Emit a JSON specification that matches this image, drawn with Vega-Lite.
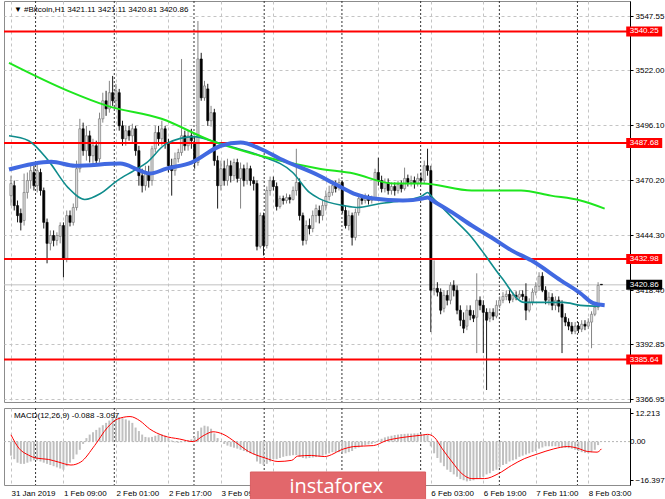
{
  "$schema": "https://vega.github.io/schema/vega-lite/v6.json",
  "padding": 0,
  "background": "white",
  "spacing": 3,
  "config": {
    "view": {"stroke": "#8c8c8c"},
    "font": "Liberation Sans",
    "axis": {"labelFont": "Liberation Sans", "labelFontSize": 8, "labelColor": "#000000"}
  },
  "datasets": {
    "bars": [
      {"i":0,"o":3462.9,"h":3472.3,"l":3458.2,"c":3468.6,"m":-6},
      {"i":1,"o":3467.6,"h":3470.0,"l":3455.9,"c":3458.2,"m":-7.5},
      {"i":2,"o":3458.2,"h":3460.6,"l":3450.3,"c":3453.5,"m":-9},
      {"i":3,"o":3454.5,"h":3456.8,"l":3446.5,"c":3450.3,"m":-9.5},
      {"i":4,"o":3451.2,"h":3473.3,"l":3448.8,"c":3464.4,"m":-9.5},
      {"i":5,"o":3464.4,"h":3473.8,"l":3461.5,"c":3470.0,"m":-9},
      {"i":6,"o":3470.0,"h":3478.0,"l":3466.2,"c":3474.7,"m":-8.5},
      {"i":7,"o":3473.8,"h":3477.0,"l":3465.3,"c":3467.6,"m":-8},
      {"i":8,"o":3467.6,"h":3478.0,"l":3464.4,"c":3474.7,"m":-8},
      {"i":9,"o":3473.8,"h":3475.6,"l":3462.9,"c":3465.3,"m":-8.5},
      {"i":10,"o":3465.3,"h":3466.7,"l":3447.4,"c":3450.3,"m":-9},
      {"i":11,"o":3450.3,"h":3452.1,"l":3431.0,"c":3440.4,"m":-9.5},
      {"i":12,"o":3440.4,"h":3446.5,"l":3437.1,"c":3444.1,"m":-10},
      {"i":13,"o":3444.1,"h":3446.5,"l":3439.0,"c":3441.8,"m":-10.5},
      {"i":14,"o":3441.8,"h":3445.6,"l":3439.4,"c":3444.1,"m":-11},
      {"i":15,"o":3443.7,"h":3450.3,"l":3440.4,"c":3448.8,"m":-11.5},
      {"i":16,"o":3448.8,"h":3450.3,"l":3424.4,"c":3433.3,"m":-12},
      {"i":17,"o":3433.3,"h":3455.9,"l":3431.5,"c":3453.5,"m":-10.5},
      {"i":18,"o":3453.5,"h":3455.9,"l":3448.4,"c":3450.3,"m":-9},
      {"i":19,"o":3450.3,"h":3459.2,"l":3448.8,"c":3457.3,"m":-7.5},
      {"i":20,"o":3457.3,"h":3479.4,"l":3455.9,"c":3475.6,"m":-5.5},
      {"i":21,"o":3475.6,"h":3499.1,"l":3473.8,"c":3494.4,"m":-3.5},
      {"i":22,"o":3494.4,"h":3497.3,"l":3481.7,"c":3484.1,"m":-1},
      {"i":23,"o":3484.1,"h":3495.8,"l":3479.4,"c":3491.1,"m":1.5},
      {"i":24,"o":3491.1,"h":3493.5,"l":3478.5,"c":3481.7,"m":3},
      {"i":25,"o":3481.7,"h":3489.7,"l":3477.0,"c":3486.4,"m":4},
      {"i":26,"o":3486.4,"h":3488.8,"l":3477.0,"c":3479.4,"m":5},
      {"i":27,"o":3480.3,"h":3502.0,"l":3478.5,"c":3499.1,"m":6},
      {"i":28,"o":3499.1,"h":3511.4,"l":3497.3,"c":3507.6,"m":7},
      {"i":29,"o":3507.6,"h":3512.3,"l":3500.5,"c":3503.8,"m":8},
      {"i":30,"o":3503.8,"h":3517.0,"l":3502.0,"c":3511.4,"m":9},
      {"i":31,"o":3511.4,"h":3519.3,"l":3505.2,"c":3507.6,"m":10},
      {"i":32,"o":3507.6,"h":3515.6,"l":3503.8,"c":3512.3,"m":10.3},
      {"i":33,"o":3511.4,"h":3513.2,"l":3493.5,"c":3495.8,"m":10.5},
      {"i":34,"o":3495.8,"h":3498.2,"l":3486.4,"c":3489.7,"m":10},
      {"i":35,"o":3489.7,"h":3495.8,"l":3486.4,"c":3493.5,"m":9.5},
      {"i":36,"o":3493.5,"h":3495.8,"l":3488.8,"c":3491.1,"m":9},
      {"i":37,"o":3491.1,"h":3496.8,"l":3487.9,"c":3494.4,"m":8},
      {"i":38,"o":3494.4,"h":3495.8,"l":3481.7,"c":3484.1,"m":6},
      {"i":39,"o":3484.1,"h":3486.4,"l":3467.6,"c":3472.3,"m":4.5},
      {"i":40,"o":3472.3,"h":3475.6,"l":3464.4,"c":3467.6,"m":3},
      {"i":41,"o":3467.6,"h":3477.0,"l":3465.3,"c":3473.8,"m":2},
      {"i":42,"o":3473.8,"h":3477.0,"l":3466.7,"c":3470.0,"m":1.8},
      {"i":43,"o":3470.0,"h":3486.4,"l":3467.6,"c":3485.0,"m":2},
      {"i":44,"o":3485.0,"h":3495.8,"l":3483.2,"c":3492.6,"m":2.5},
      {"i":45,"o":3492.6,"h":3495.8,"l":3486.4,"c":3489.7,"m":3},
      {"i":46,"o":3489.7,"h":3498.2,"l":3486.4,"c":3494.4,"m":3},
      {"i":47,"o":3494.4,"h":3495.8,"l":3485.0,"c":3487.4,"m":2.5},
      {"i":48,"o":3487.4,"h":3489.7,"l":3473.8,"c":3477.0,"m":1.5},
      {"i":49,"o":3477.0,"h":3480.3,"l":3462.9,"c":3474.7,"m":0.5},
      {"i":50,"o":3474.7,"h":3483.2,"l":3472.3,"c":3480.3,"m":-0.3},
      {"i":51,"o":3480.3,"h":3485.0,"l":3478.5,"c":3483.2,"m":-0.5},
      {"i":52,"o":3483.2,"h":3527.3,"l":3481.7,"c":3491.1,"m":-0.3},
      {"i":53,"o":3491.1,"h":3493.5,"l":3484.1,"c":3486.4,"m":0.3},
      {"i":54,"o":3486.4,"h":3493.5,"l":3484.1,"c":3491.1,"m":0.5},
      {"i":55,"o":3491.1,"h":3494.4,"l":3485.0,"c":3488.8,"m":1},
      {"i":56,"o":3487.9,"h":3491.1,"l":3475.6,"c":3478.5,"m":2},
      {"i":57,"o":3478.5,"h":3545.2,"l":3477.0,"c":3527.3,"m":4.5},
      {"i":58,"o":3527.3,"h":3530.2,"l":3507.6,"c":3509.0,"m":6},
      {"i":59,"o":3509.0,"h":3517.0,"l":3507.6,"c":3514.6,"m":6.8},
      {"i":60,"o":3513.2,"h":3515.6,"l":3495.8,"c":3498.2,"m":6.5},
      {"i":61,"o":3498.2,"h":3505.2,"l":3495.4,"c":3502.0,"m":5.5},
      {"i":62,"o":3502.0,"h":3503.8,"l":3477.0,"c":3479.4,"m":3.5},
      {"i":63,"o":3479.4,"h":3481.7,"l":3456.8,"c":3467.6,"m":1.5},
      {"i":64,"o":3467.6,"h":3479.4,"l":3465.3,"c":3475.6,"m":0},
      {"i":65,"o":3475.6,"h":3479.4,"l":3467.6,"c":3470.0,"m":-1},
      {"i":66,"o":3470.0,"h":3480.3,"l":3467.6,"c":3477.0,"m":-1.7},
      {"i":67,"o":3477.0,"h":3479.4,"l":3469.1,"c":3472.3,"m":-2.2},
      {"i":68,"o":3472.3,"h":3480.3,"l":3470.0,"c":3478.5,"m":-2.6},
      {"i":69,"o":3478.5,"h":3480.3,"l":3469.1,"c":3471.0,"m":-3},
      {"i":70,"o":3471.0,"h":3478.5,"l":3456.8,"c":3475.6,"m":-3.5},
      {"i":71,"o":3475.6,"h":3477.5,"l":3467.2,"c":3470.0,"m":-4},
      {"i":72,"o":3470.0,"h":3478.5,"l":3468.1,"c":3475.6,"m":-4.5},
      {"i":73,"o":3475.6,"h":3477.0,"l":3467.6,"c":3470.0,"m":-5},
      {"i":74,"o":3470.0,"h":3471.9,"l":3465.3,"c":3468.6,"m":-5.5},
      {"i":75,"o":3468.6,"h":3470.0,"l":3437.1,"c":3439.0,"m":-8.5},
      {"i":76,"o":3439.0,"h":3454.9,"l":3438.0,"c":3453.5,"m":-9.5},
      {"i":77,"o":3453.5,"h":3454.9,"l":3434.7,"c":3439.4,"m":-10},
      {"i":78,"o":3439.4,"h":3467.2,"l":3438.0,"c":3465.3,"m":-9.5},
      {"i":79,"o":3465.3,"h":3471.9,"l":3462.9,"c":3470.0,"m":-8.5},
      {"i":80,"o":3470.0,"h":3471.9,"l":3465.3,"c":3467.2,"m":-7.5},
      {"i":81,"o":3467.2,"h":3469.1,"l":3455.9,"c":3457.8,"m":-7.5},
      {"i":82,"o":3457.8,"h":3462.9,"l":3456.8,"c":3461.5,"m":-7},
      {"i":83,"o":3461.5,"h":3462.9,"l":3458.7,"c":3460.6,"m":-6.5},
      {"i":84,"o":3460.6,"h":3463.9,"l":3459.2,"c":3462.0,"m":-6.2},
      {"i":85,"o":3462.0,"h":3463.4,"l":3459.2,"c":3461.1,"m":-6},
      {"i":86,"o":3461.1,"h":3467.2,"l":3460.6,"c":3465.3,"m":-5.8},
      {"i":87,"o":3465.3,"h":3485.0,"l":3462.9,"c":3469.1,"m":-5.8},
      {"i":88,"o":3469.1,"h":3471.0,"l":3451.2,"c":3453.5,"m":-6.5},
      {"i":89,"o":3453.5,"h":3454.9,"l":3439.4,"c":3441.8,"m":-7},
      {"i":90,"o":3441.8,"h":3451.2,"l":3439.9,"c":3448.8,"m":-7.2},
      {"i":91,"o":3448.8,"h":3452.1,"l":3444.6,"c":3447.4,"m":-7},
      {"i":92,"o":3447.4,"h":3455.9,"l":3445.6,"c":3453.5,"m":-6.8},
      {"i":93,"o":3453.5,"h":3458.7,"l":3450.3,"c":3456.8,"m":-6.6},
      {"i":94,"o":3455.9,"h":3458.2,"l":3449.8,"c":3453.5,"m":-6.4},
      {"i":95,"o":3453.5,"h":3460.6,"l":3451.2,"c":3458.2,"m":-6},
      {"i":96,"o":3458.2,"h":3465.3,"l":3455.9,"c":3462.5,"m":-5.5},
      {"i":97,"o":3462.5,"h":3467.6,"l":3460.6,"c":3464.4,"m":-5},
      {"i":98,"o":3464.4,"h":3470.0,"l":3462.9,"c":3467.6,"m":-4.5},
      {"i":99,"o":3467.6,"h":3470.0,"l":3464.4,"c":3466.2,"m":-4.5},
      {"i":100,"o":3467.2,"h":3471.0,"l":3465.3,"c":3469.1,"m":-4.5},
      {"i":101,"o":3469.1,"h":3470.0,"l":3454.5,"c":3455.9,"m":-4.5},
      {"i":102,"o":3455.9,"h":3458.2,"l":3447.4,"c":3448.8,"m":-5},
      {"i":103,"o":3448.8,"h":3455.9,"l":3446.5,"c":3453.5,"m":-4.5},
      {"i":104,"o":3453.5,"h":3454.9,"l":3439.4,"c":3443.2,"m":-4},
      {"i":105,"o":3443.2,"h":3456.8,"l":3441.8,"c":3454.9,"m":-3},
      {"i":106,"o":3454.9,"h":3462.9,"l":3453.5,"c":3461.5,"m":-2.5},
      {"i":107,"o":3461.5,"h":3463.4,"l":3458.7,"c":3460.6,"m":-2},
      {"i":108,"o":3460.6,"h":3463.9,"l":3459.2,"c":3462.0,"m":-1.5},
      {"i":109,"o":3462.0,"h":3463.4,"l":3458.7,"c":3460.6,"m":-1.2},
      {"i":110,"o":3460.6,"h":3462.9,"l":3459.2,"c":3461.5,"m":-1},
      {"i":111,"o":3461.5,"h":3475.6,"l":3460.6,"c":3473.8,"m":-0.5},
      {"i":112,"o":3473.8,"h":3480.8,"l":3467.6,"c":3470.0,"m":0.5},
      {"i":113,"o":3470.0,"h":3472.3,"l":3464.4,"c":3466.2,"m":1.2},
      {"i":114,"o":3466.2,"h":3471.0,"l":3464.4,"c":3469.1,"m":1.8},
      {"i":115,"o":3469.1,"h":3471.0,"l":3463.4,"c":3465.3,"m":2.2},
      {"i":116,"o":3465.3,"h":3469.1,"l":3463.4,"c":3467.2,"m":2.5},
      {"i":117,"o":3467.2,"h":3469.1,"l":3462.9,"c":3465.3,"m":2.8},
      {"i":118,"o":3465.3,"h":3470.0,"l":3463.9,"c":3468.1,"m":3},
      {"i":119,"o":3468.1,"h":3470.0,"l":3464.4,"c":3466.2,"m":3.2},
      {"i":120,"o":3466.2,"h":3476.1,"l":3465.3,"c":3471.0,"m":3.3},
      {"i":121,"o":3471.0,"h":3472.8,"l":3467.2,"c":3469.1,"m":3.4},
      {"i":122,"o":3469.1,"h":3472.3,"l":3467.2,"c":3470.0,"m":3.4},
      {"i":123,"o":3470.0,"h":3471.9,"l":3466.2,"c":3468.6,"m":3.5},
      {"i":124,"o":3468.6,"h":3473.3,"l":3467.2,"c":3471.0,"m":3.5},
      {"i":125,"o":3471.0,"h":3473.8,"l":3468.1,"c":3470.0,"m":3.3},
      {"i":126,"o":3470.0,"h":3479.4,"l":3468.6,"c":3477.0,"m":3},
      {"i":127,"o":3477.0,"h":3485.0,"l":3472.3,"c":3474.7,"m":2.8},
      {"i":128,"o":3474.7,"h":3477.0,"l":3398.6,"c":3418.3,"m":-2},
      {"i":129,"o":3418.3,"h":3432.4,"l":3415.9,"c":3419.2,"m":-5},
      {"i":130,"o":3419.2,"h":3422.1,"l":3415.4,"c":3417.4,"m":-7},
      {"i":131,"o":3417.4,"h":3419.2,"l":3407.0,"c":3408.9,"m":-9},
      {"i":132,"o":3409.8,"h":3418.3,"l":3407.9,"c":3415.9,"m":-10.5},
      {"i":133,"o":3415.9,"h":3418.3,"l":3411.2,"c":3413.6,"m":-12},
      {"i":134,"o":3413.6,"h":3422.1,"l":3411.7,"c":3420.6,"m":-13},
      {"i":135,"o":3420.6,"h":3423.0,"l":3415.4,"c":3418.3,"m":-14},
      {"i":136,"o":3418.3,"h":3420.6,"l":3407.0,"c":3408.9,"m":-15},
      {"i":137,"o":3408.9,"h":3411.2,"l":3401.4,"c":3404.2,"m":-16},
      {"i":138,"o":3404.2,"h":3407.9,"l":3398.1,"c":3400.4,"m":-16.5},
      {"i":139,"o":3401.4,"h":3411.2,"l":3399.5,"c":3408.9,"m":-17},
      {"i":140,"o":3408.9,"h":3411.2,"l":3404.2,"c":3406.5,"m":-16.8},
      {"i":141,"o":3406.5,"h":3408.9,"l":3403.3,"c":3405.1,"m":-16.5},
      {"i":142,"o":3405.6,"h":3426.3,"l":3388.7,"c":3413.6,"m":-16},
      {"i":143,"o":3413.6,"h":3415.4,"l":3408.9,"c":3411.2,"m":-15.5},
      {"i":144,"o":3411.2,"h":3413.6,"l":3388.7,"c":3407.9,"m":-15},
      {"i":145,"o":3407.9,"h":3409.8,"l":3371.3,"c":3404.2,"m":-14},
      {"i":146,"o":3405.1,"h":3409.8,"l":3403.3,"c":3407.9,"m":-13.5},
      {"i":147,"o":3407.9,"h":3409.8,"l":3404.2,"c":3406.1,"m":-12.5},
      {"i":148,"o":3406.1,"h":3413.6,"l":3405.1,"c":3411.2,"m":-12},
      {"i":149,"o":3411.2,"h":3415.4,"l":3409.8,"c":3413.6,"m":-11},
      {"i":150,"o":3413.6,"h":3417.4,"l":3412.2,"c":3415.4,"m":-10},
      {"i":151,"o":3415.4,"h":3418.3,"l":3413.6,"c":3416.4,"m":-9.5},
      {"i":152,"o":3416.4,"h":3418.3,"l":3412.2,"c":3413.6,"m":-8.5},
      {"i":153,"o":3414.1,"h":3417.4,"l":3412.7,"c":3415.9,"m":-8},
      {"i":154,"o":3415.9,"h":3417.8,"l":3413.6,"c":3415.0,"m":-7.5},
      {"i":155,"o":3415.0,"h":3418.3,"l":3414.1,"c":3416.4,"m":-6.5},
      {"i":156,"o":3416.4,"h":3418.3,"l":3413.6,"c":3415.4,"m":-6},
      {"i":157,"o":3415.4,"h":3421.6,"l":3404.2,"c":3408.9,"m":-5.5},
      {"i":158,"o":3408.9,"h":3414.5,"l":3407.9,"c":3412.7,"m":-5},
      {"i":159,"o":3412.7,"h":3419.2,"l":3411.2,"c":3417.4,"m":-4.5},
      {"i":160,"o":3417.4,"h":3422.1,"l":3415.9,"c":3420.2,"m":-4},
      {"i":161,"o":3420.2,"h":3426.8,"l":3418.3,"c":3424.9,"m":-3},
      {"i":162,"o":3424.9,"h":3426.8,"l":3417.4,"c":3418.3,"m":-2.5},
      {"i":163,"o":3418.3,"h":3420.2,"l":3411.7,"c":3413.6,"m":-2},
      {"i":164,"o":3413.6,"h":3417.4,"l":3411.2,"c":3415.0,"m":-2},
      {"i":165,"o":3415.0,"h":3416.9,"l":3408.9,"c":3411.2,"m":-2},
      {"i":166,"o":3411.2,"h":3415.4,"l":3408.9,"c":3413.6,"m":-2},
      {"i":167,"o":3413.6,"h":3415.4,"l":3407.9,"c":3410.8,"m":-2.2},
      {"i":168,"o":3411.7,"h":3413.6,"l":3388.7,"c":3405.6,"m":-2.5},
      {"i":169,"o":3405.6,"h":3407.5,"l":3401.4,"c":3403.3,"m":-2.6},
      {"i":170,"o":3403.3,"h":3405.1,"l":3399.5,"c":3401.4,"m":-2.8},
      {"i":171,"o":3401.4,"h":3403.3,"l":3397.6,"c":3399.0,"m":-3},
      {"i":172,"o":3399.0,"h":3403.3,"l":3397.6,"c":3401.4,"m":-3.5},
      {"i":173,"o":3401.4,"h":3403.3,"l":3398.1,"c":3400.0,"m":-4},
      {"i":174,"o":3400.0,"h":3404.2,"l":3398.6,"c":3402.3,"m":-4.5},
      {"i":175,"o":3402.3,"h":3404.2,"l":3399.5,"c":3401.4,"m":-4.8},
      {"i":176,"o":3401.4,"h":3405.1,"l":3400.0,"c":3403.3,"m":-5},
      {"i":177,"o":3403.3,"h":3408.4,"l":3391.0,"c":3407.0,"m":-4.5},
      {"i":178,"o":3407.0,"h":3412.2,"l":3406.1,"c":3410.3,"m":-3.5},
      {"i":179,"o":3410.3,"h":3422.1,"l":3408.9,"c":3420.6,"m":-1.5},
      {"i":180,"o":3421.11,"h":3421.11,"l":3420.81,"c":3420.86,"m":-0.088}
    ],
    "ma": [
      {"s":"long","t":-0.6,"p":3525.5},{"s":"long","t":17.4,"p":3512.3},{"s":"long","t":29.4,"p":3505.2},
      {"s":"long","t":45.9,"p":3499.1},{"s":"long","t":61,"p":3488.8},{"s":"long","t":76,"p":3481.7},
      {"s":"long","t":94,"p":3475.6},{"s":"long","t":104.5,"p":3473.3},{"s":"long","t":116.5,"p":3468.6},
      {"s":"long","t":125.5,"p":3468.6},{"s":"long","t":140.5,"p":3465.3},{"s":"long","t":155.5,"p":3465.3},
      {"s":"long","t":164.6,"p":3462.9},{"s":"long","t":173.6,"p":3460.6},{"s":"long","t":181,"p":3456.8},
      {"s":"mid","t":-0.6,"p":3475.2},{"s":"mid","t":12.3,"p":3478.9},{"s":"mid","t":19.5,"p":3477.0},
      {"s":"mid","t":33.3,"p":3478.0},{"s":"mid","t":39.3,"p":3474.7},{"s":"mid","t":42.3,"p":3473.3},
      {"s":"mid","t":47.4,"p":3475.6},{"s":"mid","t":55,"p":3478.5},{"s":"mid","t":64,"p":3486.4},
      {"s":"mid","t":70,"p":3487.9},{"s":"mid","t":76,"p":3485.0},{"s":"mid","t":82,"p":3480.3},
      {"s":"mid","t":94,"p":3472.3},{"s":"mid","t":98.5,"p":3468.6},{"s":"mid","t":104.5,"p":3463.9},
      {"s":"mid","t":110.5,"p":3461.5},{"s":"mid","t":119.5,"p":3460.6},{"s":"mid","t":125.5,"p":3461.5},
      {"s":"mid","t":127,"p":3462.0},{"s":"mid","t":128.5,"p":3460.6},{"s":"mid","t":134.5,"p":3455.0},
      {"s":"mid","t":140.5,"p":3448.8},{"s":"mid","t":146.5,"p":3443.2},{"s":"mid","t":152.6,"p":3437.1},
      {"s":"mid","t":158.6,"p":3432.4},{"s":"mid","t":167.6,"p":3423.0},{"s":"mid","t":173.6,"p":3416.9},
      {"s":"mid","t":177.5,"p":3412.2},{"s":"mid","t":181,"p":3411.2},
      {"s":"short","t":-0.6,"p":3491.1},{"s":"short","t":5.4,"p":3488.8},{"s":"short","t":11.4,"p":3479.4},
      {"s":"short","t":17.4,"p":3466.7},{"s":"short","t":22.5,"p":3461.1},{"s":"short","t":27.3,"p":3463.9},
      {"s":"short","t":32.4,"p":3470.0},{"s":"short","t":37.5,"p":3474.7},{"s":"short","t":41.4,"p":3478.5},
      {"s":"short","t":47.4,"p":3487.4},{"s":"short","t":55.9,"p":3490.7},{"s":"short","t":61,"p":3488.8},
      {"s":"short","t":66.1,"p":3486.4},{"s":"short","t":76,"p":3481.7},{"s":"short","t":85.9,"p":3473.8},
      {"s":"short","t":91,"p":3464.4},{"s":"short","t":94,"p":3461.5},{"s":"short","t":101.5,"p":3458.2},
      {"s":"short","t":105.4,"p":3457.3},{"s":"short","t":112.6,"p":3459.2},{"s":"short","t":119.5,"p":3460.6},
      {"s":"short","t":125.5,"p":3462.9},{"s":"short","t":127,"p":3464.4},{"s":"short","t":128.5,"p":3462.0},
      {"s":"short","t":134.5,"p":3452.6},{"s":"short","t":140.5,"p":3443.2},{"s":"short","t":143.5,"p":3437.1},
      {"s":"short","t":149.5,"p":3424.4},{"s":"short","t":156.5,"p":3412.6},{"s":"short","t":162.5,"p":3412.6},
      {"s":"short","t":168.5,"p":3412.6},{"s":"short","t":173.6,"p":3411.2},{"s":"short","t":179.5,"p":3410.8}
    ],
    "signal": [
      {"t":0,"v":2.9},{"t":2.4,"v":-2.8},{"t":5.4,"v":-5.8},{"t":7.5,"v":-7},{"t":11.4,"v":-7.6},
      {"t":14.4,"v":-8.7},{"t":18.3,"v":-10},{"t":21.3,"v":-8.7},{"t":25.5,"v":-1.7},{"t":29.4,"v":6},
      {"t":32.4,"v":9.6},{"t":36.3,"v":10.7},{"t":39.3,"v":8.9},{"t":42.3,"v":5.4},{"t":46.5,"v":2.5},
      {"t":51.4,"v":1.1},{"t":55.6,"v":0},{"t":58.6,"v":2.5},{"t":61.6,"v":4.2},{"t":64.6,"v":3.2},
      {"t":68.5,"v":-0.3},{"t":72.4,"v":-4.2},{"t":77.5,"v":-7},{"t":81.4,"v":-8.5},{"t":85.6,"v":-8},
      {"t":87.4,"v":-6.2},{"t":91.6,"v":-5.9},{"t":95.5,"v":-6.4},{"t":101.5,"v":-3.1},{"t":104.5,"v":-2.1},
      {"t":110.5,"v":-1.7},{"t":114.4,"v":0.4},{"t":119.5,"v":1.8},{"t":125.5,"v":2.8},{"t":127,"v":3.1},
      {"t":129.1,"v":1.8},{"t":131.5,"v":-3.1},{"t":134.5,"v":-8.7},{"t":137.5,"v":-13.7},{"t":140.5,"v":-15.8},
      {"t":144.4,"v":-15.8},{"t":148.6,"v":-13.7},{"t":152.6,"v":-10.2},{"t":156.5,"v":-7.3},{"t":160.7,"v":-5.2},
      {"t":165.5,"v":-3.1},{"t":169.7,"v":-2.1},{"t":172.7,"v":-2.8},{"t":175.7,"v":-4.2},{"t":178.7,"v":-4.5},
      {"t":180,"v":-3.097}
    ],
    "levels": [{"p":3540.25},{"p":3487.68},{"p":3432.98},{"p":3385.64}],
    "last": [{"p":3420.86}],
    "seps": [{"i":7.5},{"i":31.5},{"i":55.8},{"i":77.2},{"i":100.9},{"i":124.9},{"i":148.9},{"i":172.7}],
    "macdticks": [{"v":12.213,"label":"12.213"},{"v":0,"label":"0.00"},{"v":-16.397,"label":"-16.397"}]
  },
  "vconcat": [
    {
      "width": 626,
      "height": 401,
      "layer": [
        {
          "data": {"name": "seps"},
          "mark": {"type": "rule", "color": "#333333", "strokeDash": [2, 2], "strokeWidth": 1},
          "encoding": {
            "x": {
              "field": "i", "type": "quantitative", "title": null,
              "scale": {"domain": [-0.6, 187.2], "nice": false, "zero": false},
              "axis": {
                "values": [0,8,16,24,32,40,48,56,64,72,80,88,96,104,112,120,128,136,144,152,160,168,176,184],
                "grid": true, "gridColor": "#c4c4c4", "gridDash": [3, 3],
                "labels": false, "ticks": false, "domain": false
              }
            }
          }
        },
        {
          "data": {"name": "last"},
          "mark": {"type": "rule", "color": "#c0c0c0", "strokeWidth": 1},
          "encoding": {"y": {"field": "p", "type": "quantitative", "title": null}}
        },
        {
          "data": {"name": "bars"},
          "mark": {"type": "rule", "strokeWidth": 1},
          "encoding": {
            "x": {"field": "i", "type": "quantitative", "title": null},
            "y": {
              "field": "l", "type": "quantitative", "title": null,
              "scale": {"domain": [3365.65, 3554.62], "nice": false, "zero": false},
              "axis": {
                "orient": "right",
                "values": [3547.55,3534.95,3522.0,3509.05,3496.1,3483.15,3470.2,3457.25,3444.3,3431.35,3418.4,3405.45,3392.85,3379.9,3366.95],
                "format": ".2f", "grid": true, "gridColor": "#c4c4c4", "gridDash": [3, 3],
                "tickSize": 3, "tickColor": "#000000", "domainColor": "#000000",
                "labelPadding": 2, "labelOverlap": false
              }
            },
            "y2": {"field": "h"},
            "color": {"condition": {"test": "datum.c < datum.o", "value": "#1a1a1a"}, "value": "#858585"}
          }
        },
        {
          "data": {"name": "bars"},
          "mark": {"type": "bar", "size": 2.2, "strokeWidth": 0.6},
          "encoding": {
            "x": {"field": "i", "type": "quantitative", "title": null},
            "y": {"field": "o", "type": "quantitative", "title": null},
            "y2": {"field": "c"},
            "fill": {"condition": {"test": "datum.c < datum.o", "value": "#000000"}, "value": "#d9d9d9"},
            "stroke": {"condition": {"test": "datum.c < datum.o", "value": "#000000"}, "value": "#6e6e6e"}
          }
        },
        {
          "data": {"name": "levels"},
          "mark": {"type": "rule", "color": "#ff0000", "strokeWidth": 2},
          "encoding": {"y": {"field": "p", "type": "quantitative", "title": null}}
        },
        {
          "data": {"name": "ma"},
          "transform": [{"filter": "datum.s == 'short'"}],
          "mark": {"type": "line", "color": "#0f8c8c", "strokeWidth": 1.6, "interpolate": "monotone"},
          "encoding": {
            "x": {"field": "t", "type": "quantitative", "title": null},
            "y": {"field": "p", "type": "quantitative", "title": null}
          }
        },
        {
          "data": {"name": "ma"},
          "transform": [{"filter": "datum.s == 'long'"}],
          "mark": {"type": "line", "color": "#1ee61e", "strokeWidth": 2, "interpolate": "monotone"},
          "encoding": {
            "x": {"field": "t", "type": "quantitative", "title": null},
            "y": {"field": "p", "type": "quantitative", "title": null}
          }
        },
        {
          "data": {"name": "ma"},
          "transform": [{"filter": "datum.s == 'mid'"}],
          "mark": {"type": "line", "color": "#4169e1", "strokeWidth": 4, "interpolate": "monotone"},
          "encoding": {
            "x": {"field": "t", "type": "quantitative", "title": null},
            "y": {"field": "p", "type": "quantitative", "title": null}
          }
        },
        {
          "data": {"name": "levels"},
          "mark": {"type": "tick", "orient": "horizontal", "color": "#ff0000", "size": 36, "thickness": 10, "opacity": 1},
          "encoding": {
            "x": {"datum": 193.06},
            "y": {"field": "p", "type": "quantitative", "title": null}
          }
        },
        {
          "data": {"name": "levels"},
          "mark": {"type": "text", "color": "#ffffff", "fontSize": 8, "align": "center", "baseline": "middle"},
          "encoding": {
            "x": {"datum": 193.06},
            "y": {"field": "p", "type": "quantitative", "title": null},
            "text": {"field": "p", "type": "quantitative", "format": ".2f"}
          }
        },
        {
          "data": {"name": "last"},
          "mark": {"type": "tick", "orient": "horizontal", "color": "#000000", "size": 36, "thickness": 10, "opacity": 1},
          "encoding": {
            "x": {"datum": 193.06},
            "y": {"field": "p", "type": "quantitative", "title": null}
          }
        },
        {
          "data": {"name": "last"},
          "mark": {"type": "text", "color": "#ffffff", "fontSize": 8, "align": "center", "baseline": "middle"},
          "encoding": {
            "x": {"datum": 193.06},
            "y": {"field": "p", "type": "quantitative", "title": null},
            "text": {"field": "p", "type": "quantitative", "format": ".2f"}
          }
        },
        {
          "data": {"values": [{}]},
          "mark": {"type": "text", "color": "#000000", "fontSize": 8, "align": "left", "baseline": "middle"},
          "encoding": {
            "x": {"datum": 0.9},
            "y": {"datum": 3550.4},
            "text": {"value": "▼ #Bitcoin,H1  3421.11 3421.11 3420.81 3420.86"}
          }
        }
      ]
    },
    {
      "width": 626,
      "height": 77,
      "layer": [
        {
          "data": {"name": "seps"},
          "mark": {"type": "rule", "color": "#333333", "strokeDash": [2, 2], "strokeWidth": 1},
          "encoding": {
            "x": {
              "field": "i", "type": "quantitative", "title": null,
              "scale": {"domain": [-0.6, 187.2], "nice": false, "zero": false},
              "axis": {
                "values": [0,8,16,24,32,40,48,56,64,72,80,88,96,104,112,120,128,136,144,152,160,168,176,184],
                "grid": true, "gridColor": "#c4c4c4", "gridDash": [3, 3],
                "ticks": false, "domain": false,
                "labelAlign": "left", "labelBaseline": "top", "labelPadding": 4,
                "labelFlush": false, "labelOverlap": false,
                "labelExpr": "datum.value % 16 == 0 ? ['31 Jan 2019','1 Feb 09:00','2 Feb 01:00','2 Feb 17:00','3 Feb 09:00','4 Feb 03:00','4 Feb 19:00','5 Feb 11:00','6 Feb 03:00','6 Feb 19:00','7 Feb 11:00','8 Feb 03:00'][datum.value / 16] : ''"
              }
            }
          }
        },
        {
          "data": {"values": [{}]},
          "mark": {"type": "rule", "color": "#b4b4b4", "strokeDash": [2, 2]},
          "encoding": {"y": {"datum": 0}}
        },
        {
          "data": {"name": "bars"},
          "mark": {"type": "bar", "size": 2, "color": "#c0c0c0"},
          "encoding": {
            "x": {"field": "i", "type": "quantitative", "title": null},
            "y": {
              "field": "m", "type": "quantitative", "title": null,
              "scale": {"domain": [-18.53, 14.35], "nice": false, "zero": false},
              "axis": {
                "orient": "right", "values": [12.213, -16.397],
                "format": ".3f",
                "grid": false, "tickSize": 3, "tickColor": "#000000", "domainColor": "#000000",
                "labelPadding": 2, "labelOverlap": false
              }
            },
            "y2": {"datum": 0}
          }
        },
        {
          "data": {"name": "signal"},
          "mark": {"type": "line", "color": "#ff0000", "strokeWidth": 1, "interpolate": "monotone"},
          "encoding": {
            "x": {"field": "t", "type": "quantitative", "title": null},
            "y": {"field": "v", "type": "quantitative", "title": null}
          }
        },
        {
          "data": {"name": "macdticks"},
          "transform": [{"filter": "datum.v == 0"}],
          "mark": {"type": "text", "color": "#000000", "fontSize": 8, "align": "left", "baseline": "middle", "dx": 5},
          "encoding": {
            "x": {"datum": 187.2},
            "y": {"field": "v", "type": "quantitative", "title": null},
            "text": {"field": "label"}
          }
        },
        {
          "data": {"values": [{}]},
          "mark": {"type": "text", "color": "#000000", "fontSize": 8, "align": "left", "baseline": "middle"},
          "encoding": {
            "x": {"datum": 0.9},
            "y": {"datum": 10.9},
            "text": {"value": "MACD(12,26,9) -0.088 -3.097"}
          }
        },
        {
          "data": {"values": [{}]},
          "mark": {"type": "rect", "color": "#e2676b", "opacity": 1, "stroke": "#d95d61", "strokeWidth": 1},
          "encoding": {
            "x": {"datum": 73.0},
            "x2": {"datum": 126.4},
            "y": {"datum": -12.98},
            "y2": {"datum": -26.21}
          }
        },
        {
          "data": {"values": [{}]},
          "mark": {"type": "text", "color": "#ffffff", "font": "Open Sans", "fontSize": 20, "align": "center", "baseline": "middle"},
          "encoding": {
            "x": {"datum": 99.2},
            "y": {"datum": -19.4},
            "text": {"value": "instaforex"}
          }
        }
      ]
    }
  ]
}
